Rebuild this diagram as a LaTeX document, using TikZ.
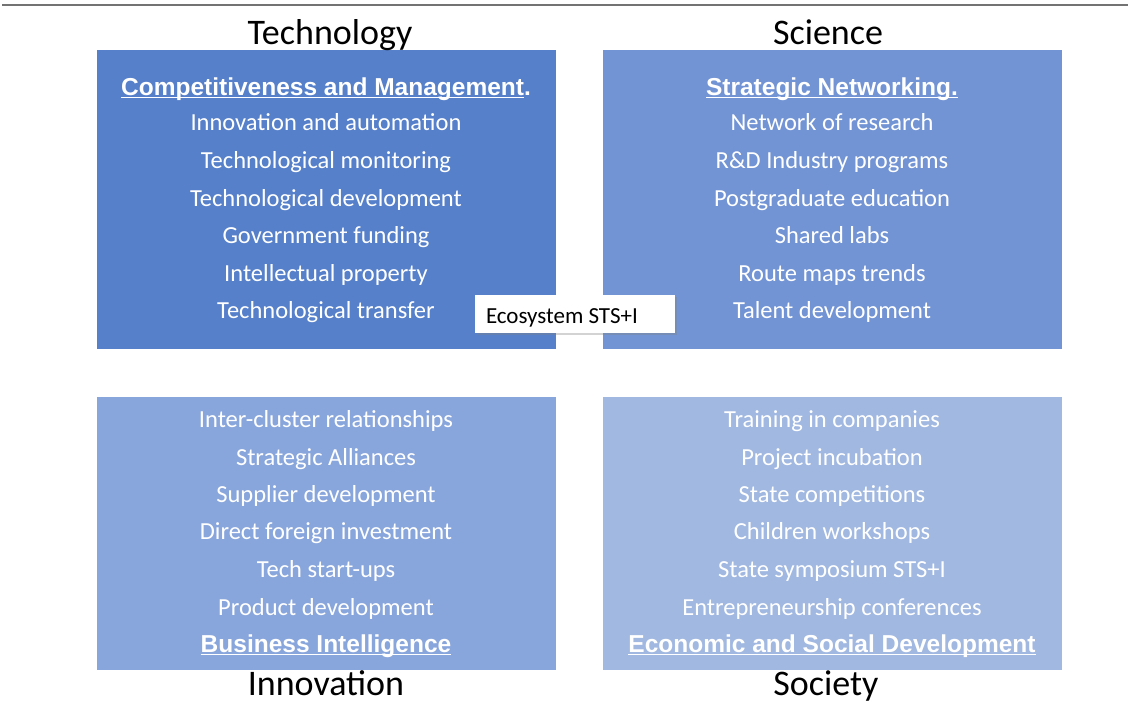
\documentclass[tikz,border=0pt]{standalone}
\usepackage{fontspec}
\setmainfont{Carlito}
\newfontfamily\headfont{Liberation Sans}
\usetikzlibrary{shadows}

\definecolor{techblue}{RGB}{86,128,202}
\definecolor{sciblue}{RGB}{114,148,212}
\definecolor{innoblue}{RGB}{137,166,220}
\definecolor{socblue}{RGB}{161,184,225}

\tikzset{
    quad/.style={anchor=north west, minimum width=459pt, inner sep=0pt},
    item/.style={anchor=base, text=white, font=\fontsize{24.5}{28}\selectfont, inner sep=0pt},
    head/.style={anchor=base, text=white, font=\headfont\bfseries\fontsize{24.5}{28}\selectfont, inner sep=0pt},
    field/.style={anchor=base, font=\fontsize{36}{40}\selectfont, inner sep=0pt},
    eco/.style={fill=white, drop shadow={opacity=0.35, shadow xshift=2pt, shadow yshift=-2pt},
        minimum height=38pt, text width=178pt, inner xsep=11pt, inner ysep=0pt, align=flush left,
        text height=20pt, text depth=2pt, font=\fontsize{23}{26}\selectfont}
}

\newsavebox{\headbox}
\newcommand{\headline}[1]{\sbox{\headbox}{#1}\rlap{\usebox{\headbox}}\rule[-3pt]{\wd\headbox}{1.4pt}}

\begin{document}
\begin{tikzpicture}[x=1pt,y=-1pt]
    \useasboundingbox (0,0) rectangle (1128,702);
    \draw[black!55, line width=2pt] (2,5) -- (1128,5);

    % the four quadrants
    \node[quad, fill=techblue, minimum height=299pt] (tech) at (97,50) {};
    \node[quad, fill=sciblue, minimum height=299pt] (sci) at (603,50) {};
    \node[quad, fill=innoblue, minimum height=273pt] (inno) at (97,397) {};
    \node[quad, fill=socblue, minimum height=273pt] (soc) at (603,397) {};

    \node[field] (techname) at (330,44) {Technology};
    \node[field] (sciname) at (828,44) {Science};
    \node[field] (innoname) at (326,695) {Innovation};
    \node[field] (socname) at (826,695) {Society};

    % technology
    \node[head] (t0) at (326,95) {\headline{Competitiveness and Management}.};
    \node[item] (t1) at (326,130) {Innovation and automation};
    \node[item] (t2) at (326,168) {Technological monitoring};
    \node[item] (t3) at (326,206) {Technological development};
    \node[item] (t4) at (326,243) {Government funding};
    \node[item] (t5) at (326,281) {Intellectual property};
    \node[item] (t6) at (326,318) {Technological transfer};

    % science
    \node[head] (s0) at (832,95) {\headline{Strategic Networking.}};
    \node[item] (s1) at (832,130) {Network of research};
    \node[item] (s2) at (832,168) {R\&D Industry programs};
    \node[item] (s3) at (832,206) {Postgraduate education};
    \node[item] (s4) at (832,243) {Shared labs};
    \node[item] (s5) at (832,281) {Route maps trends};
    \node[item] (s6) at (832,318) {Talent development};

    % innovation
    \node[item] (i1) at (326,427) {Inter-cluster relationships};
    \node[item] (i2) at (326,465) {Strategic Alliances};
    \node[item] (i3) at (326,502) {Supplier development};
    \node[item] (i4) at (326,539) {Direct foreign investment};
    \node[item] (i5) at (326,577) {Tech start-ups};
    \node[item] (i6) at (326,615) {Product development};
    \node[head] (i0) at (326,652) {\headline{Business Intelligence}};

    % society
    \node[item] (o1) at (832,427) {Training in companies};
    \node[item] (o2) at (832,465) {Project incubation};
    \node[item] (o3) at (832,502) {State competitions};
    \node[item] (o4) at (832,539) {Children workshops};
    \node[item] (o5) at (832,577) {State symposium STS+I};
    \node[item] (o6) at (832,615) {Entrepreneurship conferences};
    \node[head] (o0) at (832,652) {\headline{Economic and Social Development}};

    \node[eco] (eco) at (575,314) {Ecosystem STS+I};
\end{tikzpicture}
\end{document}
